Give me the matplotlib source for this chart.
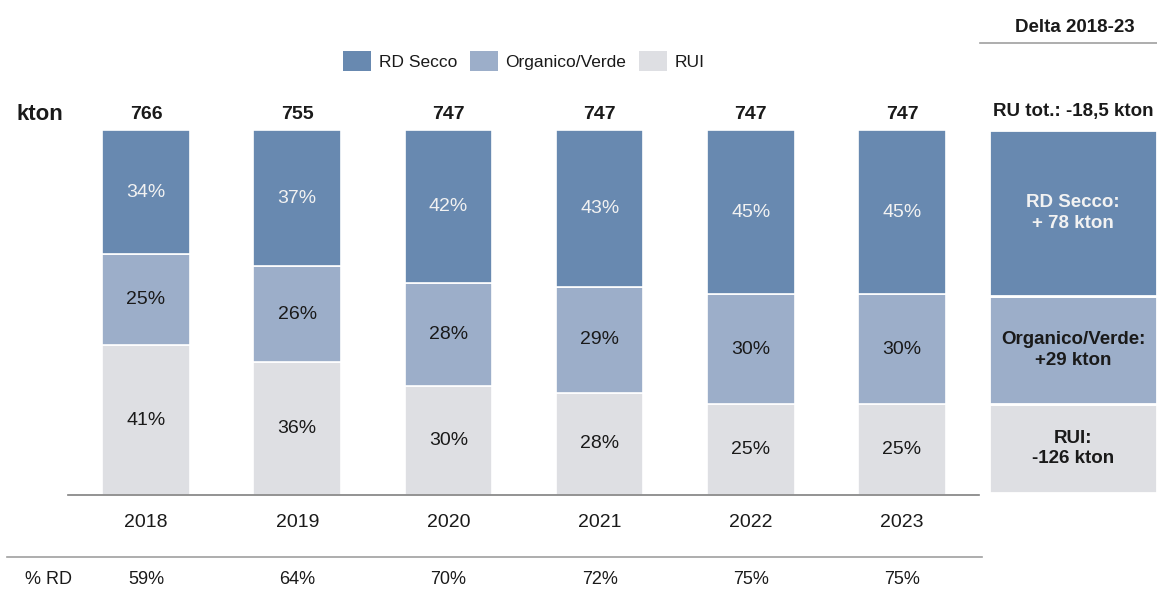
import matplotlib
matplotlib.use("Agg")
import matplotlib.pyplot as plt
from matplotlib import font_manager
from matplotlib.patches import Patch

# ---------------- data ----------------
years = ["2018", "2019", "2020", "2021", "2022", "2023"]
totals = [766, 755, 747, 747, 747, 747]
rd_secco = [34, 37, 42, 43, 45, 45]
organico = [25, 26, 28, 29, 30, 30]
rui = [41, 36, 30, 28, 25, 25]
pct_rd = ["59%", "64%", "70%", "72%", "75%", "75%"]
series_names = ["RD Secco", "Organico/Verde", "RUI"]
delta_title = "Delta 2018-23"
delta_total = "RU tot.: -18,5 kton"
delta_labels = ["RUI:\n-126 kton", "Organico/Verde:\n+29 kton", "RD Secco:\n+ 78 kton"]

# ---------------- style ----------------
names = {f.name for f in font_manager.fontManager.ttflist}
FAM = ["Liberation Sans Narrow", "Liberation Sans"] if "Liberation Sans Narrow" in names else ["Liberation Sans"]
plt.rcParams["font.family"] = FAM
C_RD = "#6889B0"
C_ORG = "#9CAEC9"
C_RUI = "#DEDFE3"
TXT = "#1a1a1a"
W, H = 1157, 596

fig = plt.figure(figsize=(W / 100, H / 100), dpi=100)

def fx(px):
    return px / W

def fy(py):
    return 1 - py / H

# main axes (pixel box 68..979 x, 130..495 y)
ax = fig.add_axes([fx(68), fy(495), fx(979 - 68), (495 - 130) / H])
x = list(range(len(years)))
bw = 0.58
shares = []
for a, b, c in zip(rd_secco, organico, rui):
    s = a + b + c
    shares.append((a / s * 100, b / s * 100, c / s * 100))
rd_h = [s[0] for s in shares]
org_h = [s[1] for s in shares]
rui_h = [s[2] for s in shares]
bot_org = rui_h
bot_rd = [r + o for r, o in zip(rui_h, org_h)]

ax.bar(x, rui_h, bw, color=C_RUI, edgecolor="white", linewidth=1.2)
ax.bar(x, org_h, bw, bottom=bot_org, color=C_ORG, edgecolor="white", linewidth=1.2)
ax.bar(x, rd_h, bw, bottom=bot_rd, color=C_RD, edgecolor="white", linewidth=1.2)

for i in x:
    ax.text(i, rui_h[i] / 2, f"{rui[i]}%", ha="center", va="center", fontsize=14, color=TXT)
    ax.text(i, bot_org[i] + org_h[i] / 2, f"{organico[i]}%", ha="center", va="center", fontsize=14, color=TXT)
    ax.text(i, bot_rd[i] + rd_h[i] / 2, f"{rd_secco[i]}%", ha="center", va="center", fontsize=14, color="#F2F2F2")
    ax.text(i, 101.8, str(totals[i]), ha="center", va="bottom", fontsize=14, fontweight="bold", color=TXT)

ax.set_xlim(-0.516, 5.509)
ax.set_ylim(0, 100)
for sp in ["top", "right", "left"]:
    ax.spines[sp].set_visible(False)
ax.spines["bottom"].set_color("#808080")
ax.spines["bottom"].set_linewidth(1.2)
ax.set_yticks([])
ax.set_xticks(x)
ax.set_xticklabels(years, fontsize=14, color=TXT)
ax.tick_params(axis="x", length=0, pad=14)

# kton label
fig.text(fx(17), fy(114), "kton", ha="left", va="center", fontsize=16, fontweight="bold", color=TXT)

# legend
handles = [Patch(facecolor=C_RD, edgecolor="none"), Patch(facecolor=C_ORG, edgecolor="none"), Patch(facecolor=C_RUI, edgecolor="none")]
fig.legend(handles, series_names, loc="center", bbox_to_anchor=(fx(524), fy(61)), ncol=3, frameon=False,
           fontsize=12.5, handlelength=1.6, handleheight=1.45, handletextpad=0.45, columnspacing=0.75,
           labelcolor=TXT, borderpad=0)

# bottom line and % RD row
fig.add_artist(plt.Line2D([fx(7), fx(982)], [fy(557), fy(557)], color="#A0A0A0", linewidth=1.2))
fig.text(fx(25), fy(580), "% RD", ha="left", va="center", fontsize=13, color=TXT)
for i in x:
    px = 146 + 151.2 * i
    fig.text(fx(px), fy(580), pct_rd[i], ha="center", va="center", fontsize=13, color=TXT)

# right panel
fig.text(fx(1075), fy(27), delta_title, ha="center", va="center", fontsize=13.5, fontweight="bold", color=TXT)
fig.add_artist(plt.Line2D([fx(980), fx(1157)], [fy(43), fy(43)], color="#A0A0A0", linewidth=1.2))
fig.text(fx(1073), fy(112), delta_total, ha="center", va="center", fontsize=13.5, fontweight="bold", color=TXT)

ax2 = fig.add_axes([fx(989), fy(493), fx(1157 - 989), (493 - 130) / H])
box_h = [89, 108, 166]
box_c = [C_RUI, C_ORG, C_RD]
box_txt = [TXT, TXT, "#F2F2F2"]
bottom = 0
for h, c, t, lab in zip(box_h, box_c, box_txt, delta_labels):
    ax2.bar(0, h, 1.0, bottom=bottom, color=c, edgecolor="white", linewidth=2.0)
    ax2.text(0, bottom + h / 2, lab, ha="center", va="center", fontsize=13.5, fontweight="bold",
             color=t, linespacing=1.3)
    bottom += h
ax2.set_xlim(-0.5, 0.5)
ax2.set_ylim(0, sum(box_h))
ax2.axis("off")

fig.savefig("out.png", dpi=100)
